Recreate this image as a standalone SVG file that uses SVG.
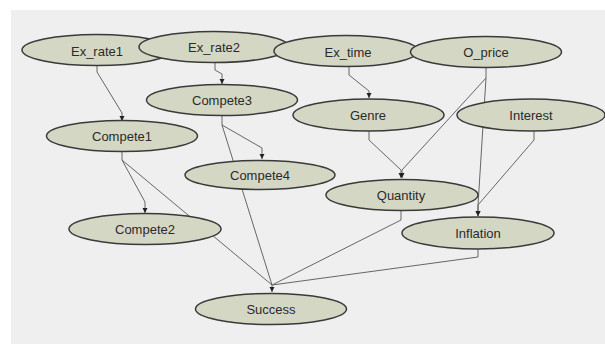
<svg xmlns="http://www.w3.org/2000/svg" width="605" height="344" viewBox="0 0 605 344">
<style>
.n ellipse{fill:#d5d7c5;stroke:#3a3a3a;stroke-width:1.5}
.n text{font-family:"Liberation Sans",Arial,sans-serif;font-size:13px;fill:#2a2a2a;text-anchor:middle;dominant-baseline:central}
#edges polyline{fill:none;stroke:#666;stroke-width:1}
.a{marker-end:url(#arr)}
</style>
<defs>
<marker id="arr" markerWidth="6" markerHeight="6" refX="5" refY="3" orient="auto" markerUnits="userSpaceOnUse">
<path d="M0,0.5 L5,3 L0,5.5 Z" fill="#222"/>
</marker>
</defs>
<rect x="0" y="0" width="605" height="344" fill="#ffffff"/>
<rect x="11" y="10" width="594" height="334" fill="#efefef"/>
<g id="edges">
<polyline class="a" points="97,65 97,72 122,113 122,121"/>
<polyline class="a" points="215,62 215,70 222,74 222,84"/>
<polyline class="a" points="349,67 349,75 369,91 369,98"/>
<polyline class="a" points="222,115 222,125 262,148 262,159"/>
<polyline class="a" points="122,152 122,160 145,202 145,213"/>
<polyline class="a" points="369,131 369,140 401,170 401,178"/>
<polyline class="a" points="486,68 486,78 402,170 402,178"/>
<polyline class="a" points="486,78 478,205 478,216"/>
<polyline class="a" points="534,131 534,140 478,205 478,216"/>
<polyline points="222,125 272,285"/>
<polyline points="122,160 272,285"/>
<polyline points="401,210 401,220 272,285"/>
<polyline points="478,249 478,257 272,285"/>
<polyline class="a" points="272,285 272,292"/>
</g>
<g id="Ex_rate1" class="n"><ellipse cx="97" cy="50" rx="75" ry="15.5"/><text x="97" y="51">Ex_rate1</text></g>
<g id="Ex_rate2" class="n"><ellipse cx="214" cy="47" rx="75" ry="15.5"/><text x="214" y="47">Ex_rate2</text></g>
<g id="Ex_time" class="n"><ellipse cx="346" cy="51" rx="72" ry="15.5"/><text x="348" y="52">Ex_time</text></g>
<g id="O_price" class="n"><ellipse cx="486" cy="52" rx="75.5" ry="15.5"/><text x="486" y="52">O_price</text></g>
<g id="Compete3" class="n"><ellipse cx="222" cy="100" rx="75.5" ry="15.5"/><text x="222" y="100">Compete3</text></g>
<g id="Genre" class="n"><ellipse cx="368.5" cy="115" rx="75.5" ry="16"/><text x="368" y="115">Genre</text></g>
<g id="Interest" class="n"><ellipse cx="531" cy="115" rx="74" ry="16"/><text x="531" y="115">Interest</text></g>
<g id="Compete1" class="n"><ellipse cx="122" cy="136" rx="75.5" ry="15.5"/><text x="122" y="136">Compete1</text></g>
<g id="Compete4" class="n"><ellipse cx="260" cy="175" rx="75" ry="14.5"/><text x="260" y="175">Compete4</text></g>
<g id="Quantity" class="n"><ellipse cx="402" cy="195" rx="76" ry="15.5"/><text x="401" y="195">Quantity</text></g>
<g id="Compete2" class="n"><ellipse cx="145" cy="229" rx="76" ry="15.5"/><text x="145" y="229">Compete2</text></g>
<g id="Inflation" class="n"><ellipse cx="478" cy="233" rx="76" ry="16"/><text x="478" y="233">Inflation</text></g>
<g id="Success" class="n"><ellipse cx="271" cy="309" rx="75.5" ry="15.5"/><text x="271" y="309">Success</text></g>
</svg>
